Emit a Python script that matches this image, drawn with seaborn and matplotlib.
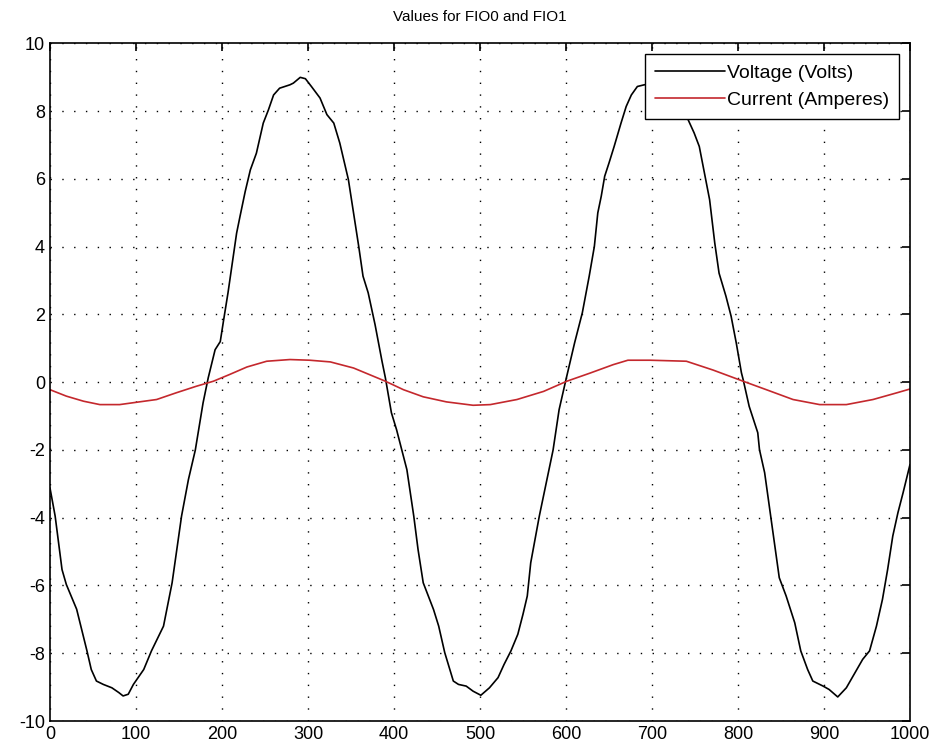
import numpy as np
import pandas as pd
import matplotlib
matplotlib.use('Agg')
import matplotlib.pyplot as plt
import seaborn as sns

# voltage samples
volt_x = [0, 6, 14, 19, 31, 43, 48, 54, 62, 72, 80, 85, 91, 97, 109, 118, 132, 142,
          153, 161, 169, 178, 184, 192, 198, 202, 207, 217, 221, 227, 233, 240, 248,
          254, 260, 267, 279, 283, 291, 297, 304, 314, 322, 330, 337, 347, 353, 359,
          364, 370, 378, 386, 390, 397, 403, 411, 415, 423, 428, 434, 446, 452, 459,
          469, 475, 484, 492, 501, 511, 521, 528, 536, 544, 550, 555, 559, 569, 577,
          585, 592, 600, 610, 619, 627, 633, 637, 641, 645, 650, 656, 664, 670, 676,
          683, 691, 698, 706, 713, 721, 730, 738, 742, 749, 755, 761, 767, 773, 778,
          786, 792, 798, 804, 806, 813, 823, 825, 831, 838, 848, 856, 866, 873, 881,
          887, 899, 906, 916, 926, 935, 945, 953, 961, 968, 974, 980, 986, 992, 1000]
volt_y = [-3.12, -3.95, -5.53, -5.97, -6.70, -7.93, -8.48, -8.82, -8.92, -9.02,
          -9.16, -9.26, -9.21, -8.92, -8.48, -7.93, -7.20, -5.92, -3.95, -2.87,
          -2.00, -0.61, 0.13, 0.96, 1.20, 1.85, 2.64, 4.40, 4.90, 5.63, 6.27, 6.76,
          7.65, 8.04, 8.48, 8.68, 8.78, 8.83, 9.00, 8.96, 8.73, 8.39, 7.90, 7.65,
          7.06, 5.98, 5.00, 4.01, 3.13, 2.64, 1.70, 0.63, 0.13, -0.90, -1.40, -2.18,
          -2.58, -3.95, -4.94, -5.92, -6.71, -7.20, -7.98, -8.82, -8.92, -8.97,
          -9.12, -9.24, -9.02, -8.72, -8.33, -7.93, -7.44, -6.85, -6.31, -5.33,
          -3.95, -2.97, -2.00, -0.81, 0.08, 1.16, 2.05, 3.13, 4.01, 5.00, 5.49,
          6.08, 6.47, 6.96, 7.65, 8.14, 8.48, 8.73, 8.78, 8.80, 8.95, 8.90, 8.70,
          8.35, 7.90, 7.75, 7.36, 6.96, 6.17, 5.39, 4.11, 3.22, 2.54, 1.95, 1.16,
          0.28, 0.08, -0.71, -1.49, -1.99, -2.67, -3.95, -5.77, -6.31, -7.10,
          -7.93, -8.48, -8.82, -8.97, -9.07, -9.29, -9.02, -8.62, -8.18, -7.93,
          -7.20, -6.41, -5.53, -4.54, -3.85, -3.26, -2.43]

# current samples
curr_x = [0, 19, 39, 58, 81, 101, 124, 147, 170, 190, 209, 229, 252, 279, 302,
          326, 353, 390, 411, 434, 461, 492, 512, 543, 574, 601, 628, 655, 672,
          698, 740, 771, 806, 833, 864, 895, 926, 957, 985, 1000]
curr_y = [-0.22, -0.41, -0.56, -0.66, -0.66, -0.59, -0.51, -0.31, -0.12, 0.03,
          0.23, 0.45, 0.62, 0.67, 0.65, 0.60, 0.42, 0.03, -0.22, -0.43, -0.58,
          -0.68, -0.66, -0.51, -0.27, 0.03, 0.27, 0.52, 0.65, 0.65, 0.62, 0.36,
          0.03, -0.22, -0.51, -0.66, -0.66, -0.51, -0.31, -0.20]

labels = ['Voltage (Volts)', 'Current (Amperes)']
colors = ['black', '#c4282d']

df = pd.concat([
    pd.DataFrame({'x': volt_x, 'y': volt_y, 'series': labels[0]}),
    pd.DataFrame({'x': curr_x, 'y': curr_y, 'series': labels[1]}),
])

sns.set_style('white')
plt.rcParams['font.family'] = ['Liberation Sans Narrow', 'Liberation Sans', 'DejaVu Sans']
plt.rcParams['axes.unicode_minus'] = False
plt.rcParams['text.color'] = 'black'

fig = plt.figure(figsize=(9.36, 7.47), dpi=100)
ax = fig.add_axes([0.0534, 0.0348, 0.9188, 0.907])

sns.lineplot(data=df, x='x', y='y', hue='series', palette=dict(zip(labels, colors)),
             sort=False, estimator=None, linewidth=1.2, ax=ax)

ax.set_xlim(0, 1000)
ax.set_ylim(-10, 10)
ax.set_xticks(np.arange(0, 1001, 100))
ax.set_yticks(np.arange(-10, 11, 2))
ax.set_xlabel('')
ax.set_ylabel('')
ax.grid(True, linestyle=(0, (1, 7.5)), color='black', linewidth=1.0)
ax.tick_params(direction='in', length=6, top=True, right=True, labelsize=13,
               color='black', labelcolor='black', width=1.2)
for s in ax.spines.values():
    s.set_color('black')
    s.set_linewidth(1.2)
ax.set_title('Values for FIO0 and FIO1', fontsize=11, pad=16, color='black')

leg = ax.legend(loc='upper right', fontsize=14, frameon=True, fancybox=False,
                framealpha=1, edgecolor='black', handlelength=3.6,
                borderaxespad=0.55, handletextpad=0.15, labelspacing=0.5,
                borderpad=0.5)
leg.get_frame().set_linewidth(1.0)
for t in leg.get_texts():
    t.set_color('black')

fig.savefig('out.png', dpi=100)
